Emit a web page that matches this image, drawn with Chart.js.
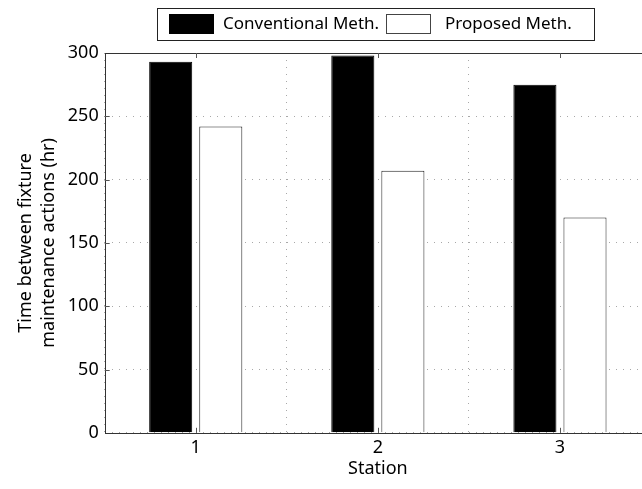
<!DOCTYPE html>
<html lang="en">
<head>
    <meta charset="UTF-8">
    <title>Time between fixture maintenance actions</title>
    <script src="https://cdn.jsdelivr.net/npm/chart.js"></script>
    <style>
        html, body {
            margin: 0;
            padding: 0;
            background: #fff;
            overflow: hidden;
        }
        #wrap {
            width: 642px;
            height: 489px;
            overflow: hidden;
        }
    </style>
</head>
<body>
    <div id="wrap"><canvas id="barChart" width="660" height="489"></canvas></div>

    <script>
        const stations = [1, 2, 3];
        const conventional = [293, 298, 275];
        const proposed = [242, 207, 170];
        const yTicks = [0, 50, 100, 150, 200, 250, 300];
        const seriesNames = ['Conventional Meth.', 'Proposed Meth.'];

        const FONT = '"Noto Sans", "Open Sans", sans-serif';

        // frame around the plot area, inward tick marks, and the boxed legend at the top
        const framePlugin = {
            id: 'frame',
            afterDraw(chart) {
                const { ctx, chartArea: a } = chart;
                const xs = chart.scales.x, ys = chart.scales.y;
                ctx.save();
                ctx.strokeStyle = '#333';
                ctx.lineWidth = 1;
                ctx.strokeRect(Math.round(a.left) + 0.5, Math.round(a.top) + 0.5,
                    Math.round(a.right - a.left), Math.round(a.bottom - a.top));

                // small inward ticks
                ctx.strokeStyle = '#555';
                ctx.beginPath();
                stations.forEach(v => {
                    const px = Math.round(xs.getPixelForValue(v)) + 0.5;
                    ctx.moveTo(px, a.top); ctx.lineTo(px, a.top + 5);
                    ctx.moveTo(px, a.bottom); ctx.lineTo(px, a.bottom - 5);
                });
                yTicks.slice(1, -1).forEach(v => {
                    const py = Math.round(ys.getPixelForValue(v)) + 0.5;
                    ctx.moveTo(a.left, py); ctx.lineTo(a.left + 5, py);
                });
                ctx.stroke();

                // legend
                ctx.font = '17px ' + FONT;
                ctx.textBaseline = 'middle';
                ctx.fillStyle = '#000';
                ctx.strokeStyle = '#222';
                ctx.strokeRect(157.5, 8.5, 437, 32);
                ctx.fillRect(169, 14, 45, 20);
                ctx.fillText(seriesNames[0], 223, 24.5);
                ctx.strokeStyle = '#444';
                ctx.strokeRect(386.5, 14.5, 44, 19);
                ctx.fillText(seriesNames[1], 445, 24.5);
                ctx.restore();
            }
        };

        const ctx = document.getElementById('barChart').getContext('2d');
        new Chart(ctx, {
            type: 'bar',
            data: {
                datasets: [
                    {
                        label: seriesNames[0],
                        data: stations.map((s, i) => ({ x: s, y: conventional[i] })),
                        backgroundColor: '#000',
                        borderColor: '#000',
                        borderWidth: 1,
                        categoryPercentage: 0.55,
                        barPercentage: 0.86
                    },
                    {
                        label: seriesNames[1],
                        data: stations.map((s, i) => ({ x: s, y: proposed[i] })),
                        backgroundColor: '#fff',
                        borderColor: '#222',
                        borderWidth: 1,
                        categoryPercentage: 0.55,
                        barPercentage: 0.86
                    }
                ]
            },
            options: {
                responsive: false,
                animation: false,
                layout: {
                    padding: { top: 53, left: 14, right: 9, bottom: 9 }
                },
                scales: {
                    x: {
                        type: 'linear',
                        min: 0.5,
                        max: 3.5,
                        offset: false,
                        afterBuildTicks: (scale) => {
                            scale.ticks = stations.map(v => ({ value: v }));
                        },
                        ticks: {
                            color: '#000',
                            font: { family: FONT, size: 18 },
                            padding: 4
                        },
                        grid: {
                            color: '#a8a8a8',
                            drawTicks: false
                        },
                        border: { display: false, dash: [1, 6] },
                        title: {
                            display: true,
                            text: 'Station',
                            color: '#000',
                            font: { family: FONT, size: 18 },
                            padding: { top: -4, bottom: 0 }
                        }
                    },
                    y: {
                        min: 0,
                        max: 300,
                        afterBuildTicks: (scale) => {
                            scale.ticks = yTicks.map(v => ({ value: v }));
                        },
                        ticks: {
                            color: '#000',
                            font: { family: FONT, size: 18 },
                            padding: 6
                        },
                        grid: {
                            color: '#a8a8a8',
                            drawTicks: false
                        },
                        border: { display: false, dash: [1, 6] },
                        title: {
                            display: true,
                            text: ['Time between fixture', 'maintenance actions (hr)'],
                            color: '#000',
                            font: { family: FONT, size: 18, lineHeight: 1.3 },
                            padding: { top: 0, bottom: 1 }
                        }
                    }
                },
                plugins: {
                    legend: { display: false },
                    tooltip: { enabled: false }
                }
            },
            plugins: [framePlugin]
        });
    </script>
</body>
</html>
